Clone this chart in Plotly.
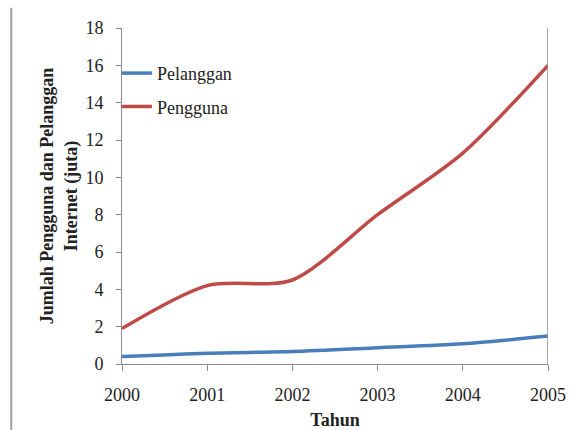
import plotly.graph_objects as go

years = [2000, 2001, 2002, 2003, 2004, 2005]
pelanggan = [0.40, 0.58, 0.67, 0.87, 1.08, 1.50]
pengguna = [1.90, 4.20, 4.50, 8.00, 11.30, 16.00]

y_ticks = [0, 2, 4, 6, 8, 10, 12, 14, 16, 18]

font_family = "Liberation Serif"
axis_grey = "#8c8c8c"

fig = go.Figure()
fig.add_trace(go.Scatter(x=years, y=pelanggan, name="Pelanggan", mode="lines", legendgroup="a",
                         line=dict(color="#4A7EBB", width=3.5, shape="spline", smoothing=0.8)))
fig.add_trace(go.Scatter(x=years, y=pengguna, name="Pengguna", mode="lines", legendgroup="b",
                         line=dict(color="#BE4B48", width=3.5, shape="spline", smoothing=0.8)))

fig.update_layout(
    width=581, height=430,
    margin=dict(l=122, r=33, t=28, b=66),
    paper_bgcolor="white", plot_bgcolor="white",
    font=dict(family=font_family, size=18, color="#222222"),
    showlegend=True,
    legend=dict(x=-0.012, y=0.92, xanchor="left", yanchor="top",
                bgcolor="rgba(0,0,0,0)", itemwidth=30,
                font=dict(size=18, family=font_family), tracegroupgap=7),
    xaxis=dict(range=[2000, 2005], tickvals=years, ticktext=[str(y) for y in years],
               showgrid=False, zeroline=False, showline=True, linecolor=axis_grey, linewidth=1,
               ticks="outside", ticklen=6, tickcolor=axis_grey, ticklabelstandoff=8,
               automargin=False,
               title=dict(text="<b>Tahun</b>", standoff=9, font=dict(size=18))),
    yaxis=dict(range=[0, 18], tickvals=y_ticks, showgrid=False, zeroline=False,
               showline=True, linecolor=axis_grey, linewidth=1,
               ticks="outside", ticklen=5, tickcolor=axis_grey, ticklabelstandoff=9,
               automargin=False,
               title=dict(text="<b>Jumlah Pengguna dan Pelanggan<br>Internet (juta)</b>",
                          standoff=3, font=dict(size=18))),
    shapes=[
        # right border of the plot area
        dict(type="line", xref="x", yref="paper", x0=2005, x1=2005, y0=0, y1=1,
             line=dict(color=axis_grey, width=1.5)),
        # page rule at the left edge
        dict(type="line", xref="paper", yref="paper", x0=-0.26, x1=-0.26, y0=-0.2, y1=1.06,
             line=dict(color="#a0a0a0", width=2)),
    ],
)

fig.write_html("out.html")
